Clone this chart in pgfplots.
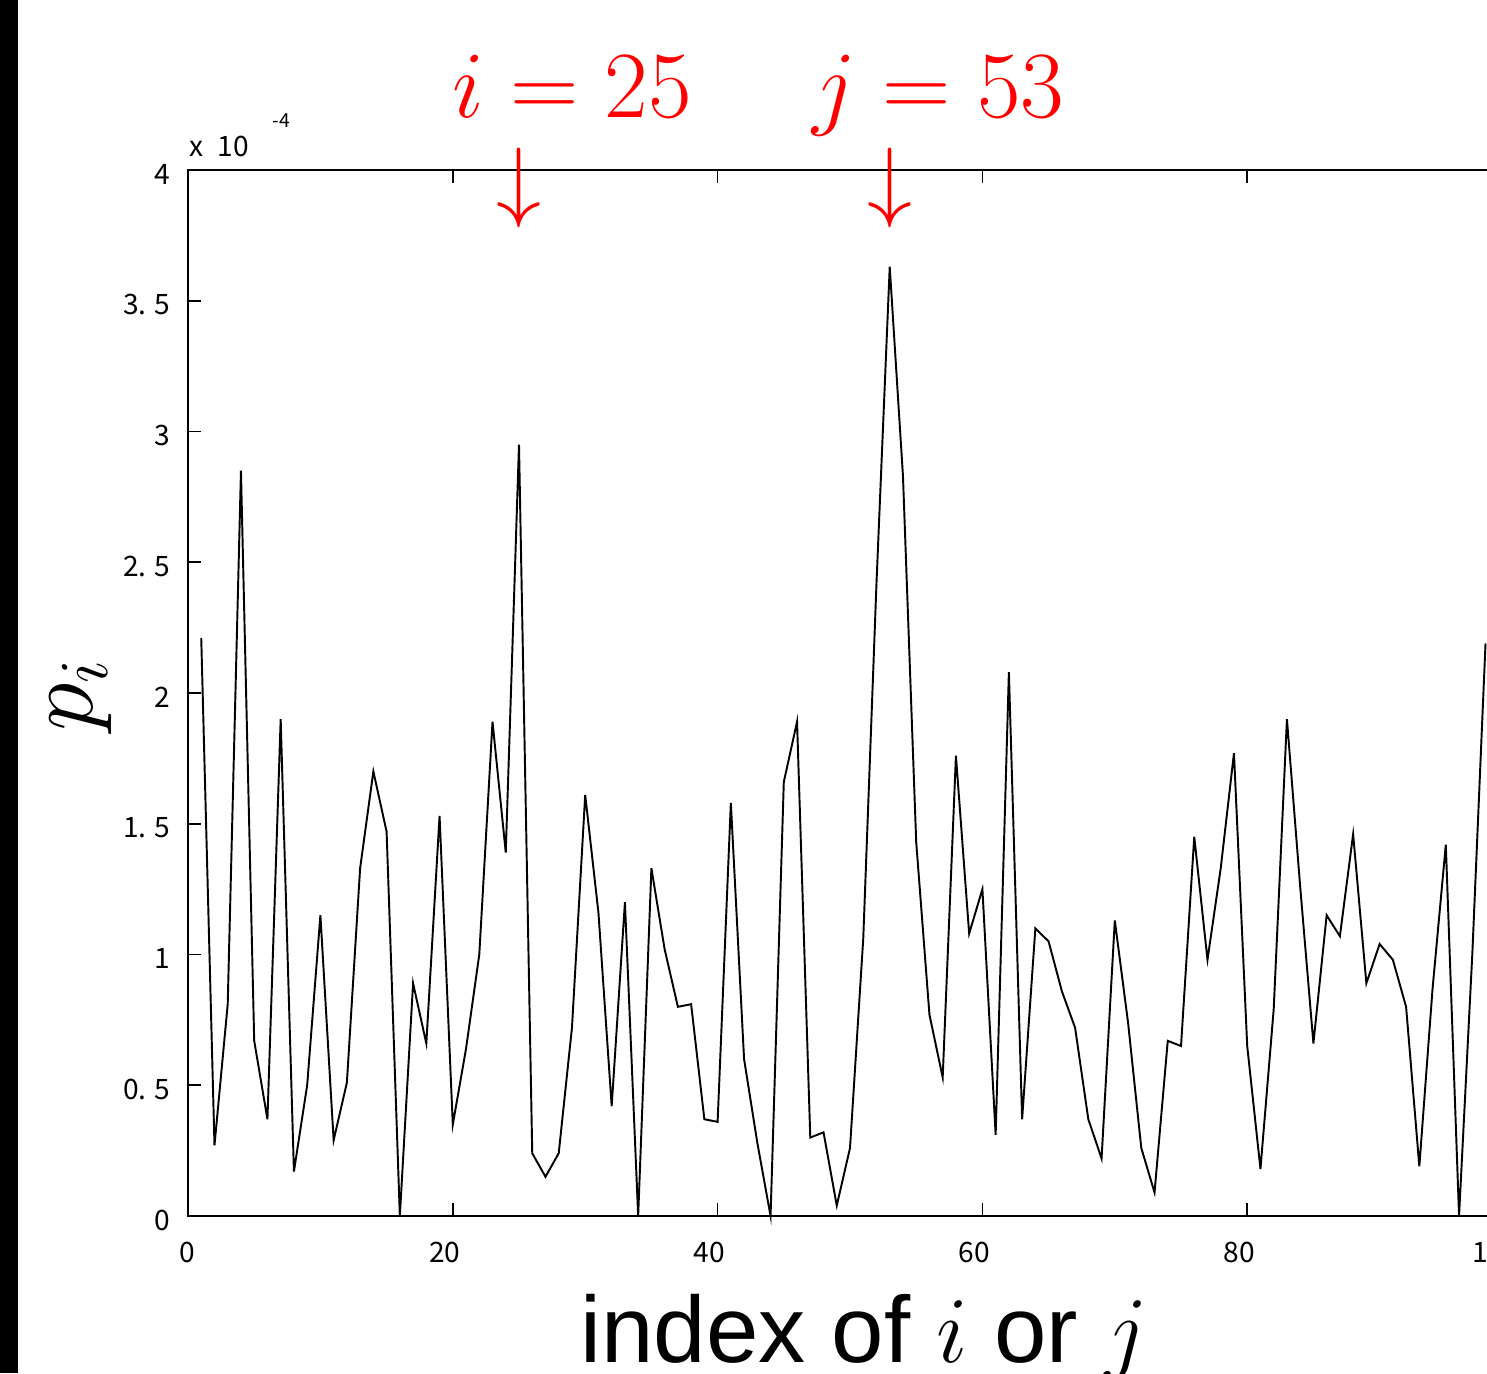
\documentclass[border=0pt]{standalone}
\usepackage{fix-cm}
\usepackage{fontspec}
\usepackage{pgfplots}
\pgfplotsset{compat=1.18}
\newfontfamily\tickfont{Noto Sans CJK JP}
\newfontfamily\labfont{Liberation Sans}

% p_i in units of 1e-4, index 1..98 (the rest is cut off at the right edge)
\pgfplotstableread{
i p
1 2.21
2 0.27
3 0.81
4 2.85
5 0.67
6 0.37
7 1.90
8 0.17
9 0.50
10 1.15
11 0.29
12 0.51
13 1.33
14 1.70
15 1.47
16 0
17 0.89
18 0.66
19 1.53
20 0.35
21 0.64
22 1.00
23 1.89
24 1.39
25 2.95
26 0.24
27 0.15
28 0.24
29 0.72
30 1.61
31 1.16
32 0.42
33 1.20
34 0
35 1.33
36 1.02
37 0.80
38 0.81
39 0.37
40 0.36
41 1.58
42 0.60
43 0.28
44 0
45 1.66
46 1.89
47 0.30
48 0.32
49 0.04
50 0.26
51 1.06
52 2.42
53 3.63
54 2.83
55 1.43
56 0.77
57 0.53
58 1.76
59 1.08
60 1.25
61 0.31
62 2.08
63 0.37
64 1.10
65 1.05
66 0.86
67 0.72
68 0.37
69 0.22
70 1.13
71 0.74
72 0.26
73 0.09
74 0.67
75 0.65
76 1.45
77 0.98
78 1.33
79 1.77
80 0.65
81 0.18
82 0.79
83 1.90
84 1.26
85 0.66
86 1.15
87 1.07
88 1.46
89 0.89
90 1.04
91 0.98
92 0.80
93 0.19
94 0.87
95 1.42
96 0
97 1.00
98 2.19
}\pdata

\begin{document}
\begin{tikzpicture}
\useasboundingbox (-18.8mm,-15.7mm) rectangle (129.9mm,121.6mm);
\begin{axis}[
    scale only axis,
    width=132.4mm, height=104.6mm,
    xmin=0, xmax=100, ymin=0, ymax=4,
    xtick={0,20,40,60,80,100},
    xticklabels={0,20,40,60,80,100},
    ytick={0,0.5,1,1.5,2,2.5,3,3.5,4},
    yticklabels={0,0. 5,1,1. 5,2,2. 5,3,3. 5,4},
    tick align=inside,
    major tick length=1.3mm,
    tick style={black, line width=0.5pt},
    axis line style={line width=0.6pt},
    tick label style={font=\tickfont\fontsize{8}{9}\selectfont},
    yticklabel style={xshift=-0.5mm, yshift=-0.4mm},
    xticklabel style={anchor=north east, xshift=2mm, yshift=-1.4mm},
    xlabel={\labfont\fontsize{26.8}{29}\selectfont index of $i$ or $j$},
    xlabel style={at={(axis description cs:0.5106,-0.1396)}, anchor=base},
    ylabel={\fontsize{28}{30}\selectfont $p_i$},
    ylabel style={at={(axis description cs:-0.0718,0.498)}, anchor=base},
    clip=false,
]
\addplot[black, line width=0.55pt] table[x=i, y=p] {\pdata};

\node[red, anchor=base, font=\fontsize{27}{30}\selectfont] at (axis cs:29.0,4.199) {$i = 25$};
\node[red, anchor=base, font=\fontsize{27}{30}\selectfont] at (axis cs:56.7,4.199) {$j = 53$};
\node[red, inner sep=0pt, font=\fontsize{25.6}{28}\selectfont] at (axis cs:25,3.931) {$\downarrow$};
\node[red, inner sep=0pt, font=\fontsize{25.6}{28}\selectfont] at (axis cs:53,3.931) {$\downarrow$};
\end{axis}

% exponent of the y axis
\node[anchor=base west, inner sep=0pt, font=\tickfont\fontsize{8}{9}\selectfont] at (0.1mm,105.9mm) {x};
\node[anchor=base west, inner sep=0pt, font=\tickfont\fontsize{8}{9}\selectfont] at (2.9mm,105.9mm) {10};
\node[anchor=base west, inner sep=0pt, font=\tickfont\fontsize{5.5}{6}\selectfont] at (8.4mm,108.8mm) {-4};

% dark strip on the left edge
\fill[black] (-18.8mm,-15.7mm) rectangle (-17.0mm,121.6mm);
\end{tikzpicture}
\end{document}
